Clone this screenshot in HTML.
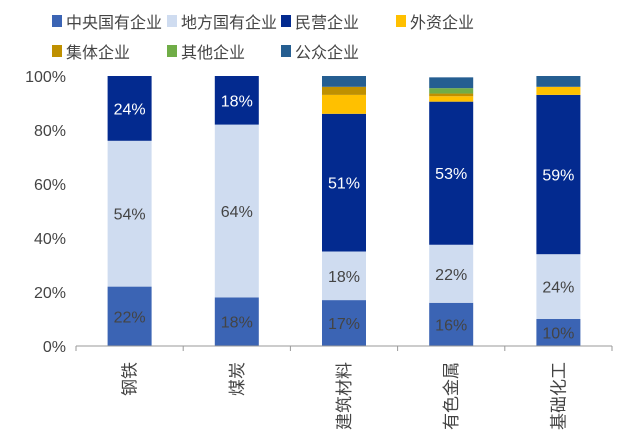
<!DOCTYPE html>
<html><head><meta charset="utf-8">
<style>
body{margin:0;background:#fff;}
svg{display:block;font-family:"Liberation Sans","Noto Sans CJK SC",sans-serif;}
</style></head>
<body>
<svg id="chart" width="618" height="441" viewBox="0 0 618 441"></svg>
<script>
const categories = ["钢铁","煤炭","建筑材料","有色金属","基础化工"];
const seriesNames = ["中央国有企业","地方国有企业","民营企业","外资企业","集体企业","其他企业","公众企业"];
const central = [22,18,17,16,10];
const local = [54,64,18,21.5,24];
const privateEnt = [24,18,51,53,59];
const foreign = [0,0,7,2,3];
const collective = [0,0,3,1,0];
const other = [0,0,0,2,0];
const publicEnt = [0,0,4,4,4];
const labeledSeries = [0,1,2];
const yTicks = [0,20,40,60,80,100];

const colors = ["#3b64b4","#cfdcf0","#032a8f","#ffc000","#bf9000","#70ad47","#255e91"];
const labelColors = ["#444","#444","#fff"];
const series = [central, local, privateEnt, foreign, collective, other, publicEnt];
const NS = "http://www.w3.org/2000/svg";
const svg = document.getElementById("chart");
const x0 = 76, x1 = 612, yBase = 346, yTop = 76;
const band = (x1 - x0) / categories.length;
const barW = 44;
function yScale(v){ return yBase - v / 100 * (yBase - yTop); }
function xCenter(i){ return x0 + band * (i + 0.5); }
function mk(tag, attrs){ const e = document.createElementNS(NS, tag); for (const k in attrs) e.setAttribute(k, attrs[k]); svg.appendChild(e); return e; }

yTicks.forEach(t => {
  const tx = mk("text", {x: 66, y: yScale(t) + 6, "text-anchor": "end", "font-size": 16, fill: "#444"});
  tx.textContent = t + "%";
  
  
});

categories.forEach((c, i) => {
  let cum = 0;
  series.forEach((s, k) => {
    const v = s[i];
    if (v <= 0) return;
    const r = mk("rect", {x: xCenter(i) - barW/2, y: yScale(cum + v), width: barW, height: yScale(cum) - yScale(cum + v), fill: colors[k]});
    
    
    if (labeledSeries.includes(k)) {
      const t = mk("text", {x: xCenter(i), y: (yScale(cum) + yScale(cum + v)) / 2 + 6, "text-anchor": "middle", "font-size": 16, fill: labelColors[k]});
      t.textContent = Math.round(v) + "%";
      
      
    }
    cum += v;
  });
  const lbl = mk("text", {transform: `translate(${xCenter(i) + 6},362) rotate(-90)`, "text-anchor": "end", "font-size": 17, fill: "#444"});
  lbl.textContent = c;
  
  
});

const ax = mk("line", {x1: x0, y1: yBase, x2: x1, y2: yBase, stroke: "#999", "stroke-width": 1});


for (let i = 0; i <= categories.length; i++) {
  const tk = mk("line", {x1: x0 + band*i, y1: yBase, x2: x0 + band*i, y2: yBase + 5, stroke: "#999"});
  
  
}

seriesNames.forEach((n, k) => {
  const lx = [52,167,281,396,52,167,281][k], ly = k < 4 ? 22 : 52;
  const g = document.createElementNS(NS, "g"); svg.appendChild(g);
  
  
  const r = document.createElementNS(NS, "rect");
  r.setAttribute("x", lx); r.setAttribute("y", ly - 7); r.setAttribute("width", 10); r.setAttribute("height", 12); r.setAttribute("fill", colors[k]);
  g.appendChild(r);
  const t = document.createElementNS(NS, "text");
  t.setAttribute("x", lx + 14); t.setAttribute("y", ly + 6); t.setAttribute("font-size", 16); t.setAttribute("fill", "#444");
  t.textContent = n; g.appendChild(t);
});
</script>
</body></html>
